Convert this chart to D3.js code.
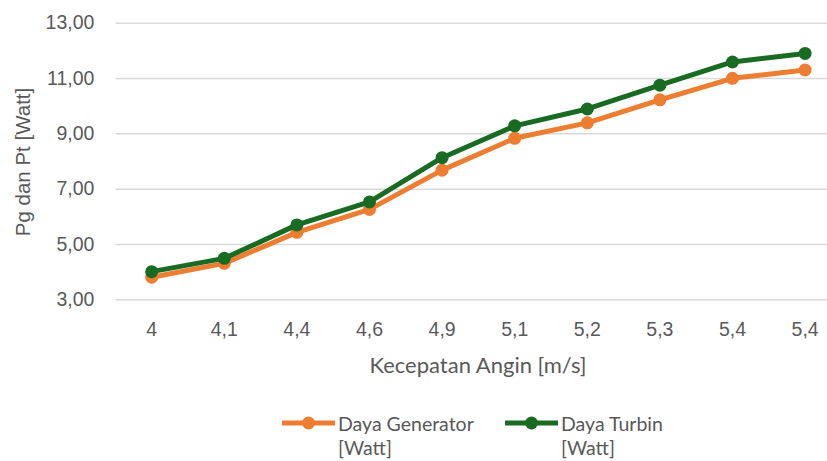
<!DOCTYPE html>
<html>
<head>
<meta charset="utf-8">
<script src="https://cdn.jsdelivr.net/npm/d3@7"></script>
<style>
  body { margin: 0; background: #fff; }
  svg { display: block; }
</style>
</head>
<body>
<script>
// data
const kecepatan = ["4", "4,1", "4,4", "4,6", "4,9", "5,1", "5,2", "5,3", "5,4", "5,4"];
const dayaGenerator = [3.80, 4.30, 5.42, 6.25, 7.67, 8.82, 9.38, 10.21, 10.99, 11.29];
const dayaTurbin = [4.00, 4.48, 5.69, 6.52, 8.12, 9.27, 9.88, 10.74, 11.58, 11.89];
const yTicks = [3, 5, 7, 9, 11, 13];

const width = 827, height = 461;
const plotLeft = 115.4, plotRight = 841.4, plotTop = 22.7, plotBottom = 299.3;

const svg = d3.select("body").append("svg")
    .attr("width", width)
    .attr("height", height);

// scales
const x = d3.scaleBand().domain(d3.range(kecepatan.length)).range([plotLeft, plotRight]);
const y = d3.scaleLinear().domain([3, 13]).range([plotBottom, plotTop]);

// grid lines + y labels
const yAxis = d3.axisLeft(y)
    .tickValues(yTicks)
    .tickSize(-(plotRight - plotLeft))
    .tickPadding(21)
    .tickFormat(d => d3.format(".2f")(d).replace(".", ","));

const gy = svg.append("g")
    .attr("transform", "translate(" + plotLeft + ",0)")
    .call(yAxis);
gy.select(".domain").remove();
gy.selectAll(".tick line").attr("stroke", "#d9d9d9").attr("stroke-width", 1.5);
gy.selectAll(".tick text")
    .attr("fill", "#595959")
    .style("font-family", "'Liberation Sans', Arial, sans-serif")
    .style("font-size", "19.5px");

// x labels
const xAxis = d3.axisBottom(x)
    .tickSize(0)
    .tickPadding(23)
    .tickFormat(i => kecepatan[i]);

const gx = svg.append("g")
    .attr("transform", "translate(0," + plotBottom + ")")
    .call(xAxis);
gx.select(".domain").remove();
gx.selectAll(".tick text")
    .attr("fill", "#595959")
    .style("font-family", "'Liberation Sans', Arial, sans-serif")
    .style("font-size", "19.5px");

// axis titles
svg.append("text")
    .attr("x", 478)
    .attr("y", 373)
    .attr("text-anchor", "middle")
    .attr("fill", "#595959")
    .style("font-family", "Lato, sans-serif")
    .style("font-size", "22px")
    .text("Kecepatan Angin [m/s]");

svg.append("text")
    .attr("transform", "translate(30,162) rotate(-90)")
    .attr("text-anchor", "middle")
    .attr("fill", "#595959")
    .style("font-family", "'Liberation Sans', Arial, sans-serif")
    .style("font-size", "20.5px")
    .text("Pg dan Pt  [Watt]");

// series
const series = [
    { name: "Daya Generator", values: dayaGenerator, color: "#ED7D31" },
    { name: "Daya Turbin", values: dayaTurbin, color: "#196B24" }
];

const line = d3.line()
    .x((d, i) => x(i) + x.bandwidth() / 2)
    .y(d => y(d));

series.forEach(s => {
    svg.append("path")
        .datum(s.values)
        .attr("fill", "none")
        .attr("stroke", s.color)
        .attr("stroke-width", 5)
        .attr("stroke-linejoin", "round")
        .attr("d", line);

    svg.selectAll(null)
        .data(s.values)
        .enter()
        .append("circle")
        .attr("cx", (d, i) => x(i) + x.bandwidth() / 2)
        .attr("cy", d => y(d))
        .attr("r", 6.5)
        .attr("fill", s.color);
});

// legend
const legendX = [282, 505];
const legend = svg.selectAll(".legend")
    .data(series)
    .enter()
    .append("g")
    .attr("class", "legend")
    .attr("transform", (d, i) => "translate(" + legendX[i] + ",423)");

legend.append("line")
    .attr("x1", 0).attr("x2", 53)
    .attr("stroke", d => d.color)
    .attr("stroke-width", 5);
legend.append("circle")
    .attr("cx", 26.5)
    .attr("r", 6.5)
    .attr("fill", d => d.color);

const lt = legend.append("text")
    .attr("x", 56)
    .attr("fill", "#595959")
    .style("font-family", "Lato, sans-serif")
    .style("font-size", "19.5px");
lt.append("tspan").attr("x", 56).attr("y", 8).text(d => d.name);
lt.append("tspan").attr("x", 56).attr("y", 32).text("[Watt]");
</script>
</body>
</html>
